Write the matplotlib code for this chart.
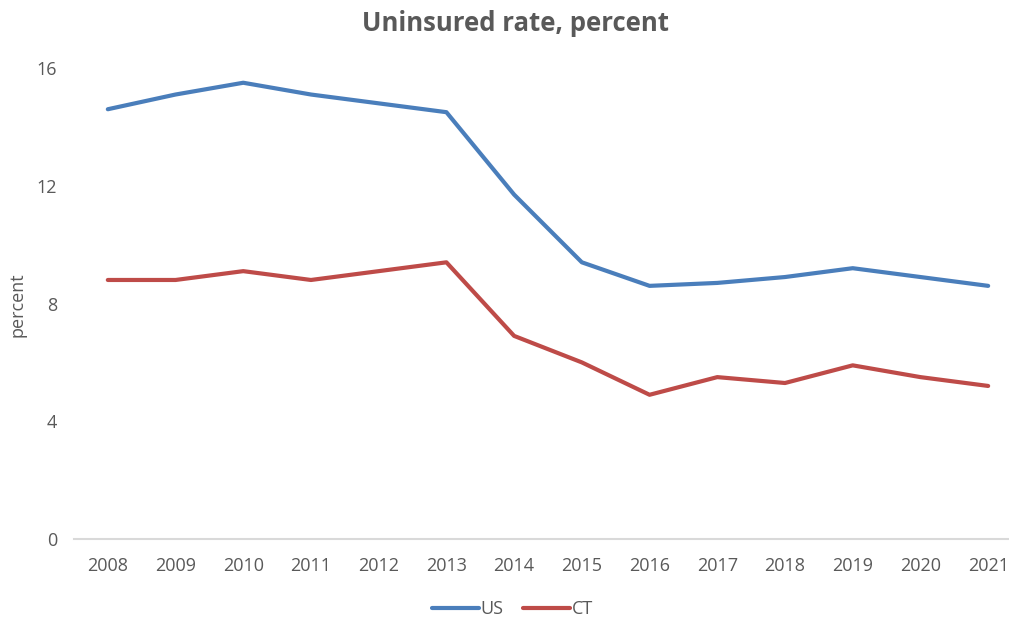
import matplotlib.pyplot as plt

# uninsured rate by year, US vs Connecticut
years = ['2008', '2009', '2010', '2011', '2012', '2013', '2014',
         '2015', '2016', '2017', '2018', '2019', '2020', '2021']
us_rate = [14.6, 15.1, 15.5, 15.1, 14.8, 14.5, 11.7, 9.4, 8.6, 8.7, 8.9, 9.2, 8.9, 8.6]
ct_rate = [8.8, 8.8, 9.1, 8.8, 9.1, 9.4, 6.9, 6.0, 4.9, 5.5, 5.3, 5.9, 5.5, 5.2]

grey = '#595959'
plt.rcParams['font.family'] = ['Open Sans', 'DejaVu Sans']

fig = plt.figure(figsize=(10.09, 6.19), dpi=100)
ax = fig.add_axes([0.0733, 0.1292, 0.9396, 0.7609])

x = range(len(years))
ax.plot(x, us_rate, color='#4A7EBB', linewidth=3, solid_capstyle='round', label='US')
ax.plot(x, ct_rate, color='#BE4B48', linewidth=3, solid_capstyle='round', label='CT')

ax.set_xlim(-0.5, len(years) - 0.5)
ax.set_ylim(0, 16)
ax.set_yticks([0, 4, 8, 12, 16])
ax.set_xticks(list(x))
ax.set_xticklabels(years)
ax.tick_params(axis='both', length=0, labelsize=13, colors=grey)
ax.tick_params(axis='x', pad=13)
ax.tick_params(axis='y', pad=12)

for side in ['top', 'right', 'left']:
    ax.spines[side].set_visible(False)
ax.spines['bottom'].set_color('#D9D9D9')
ax.spines['bottom'].set_linewidth(1.5)

# y label placed by hand so it sits close to the left edge
fig.text(18 / 1009, 1 - 305 / 619, 'percent', rotation=90, ha='center', va='center',
         fontsize=13, color=grey)
fig.text(0.511, 0.962, 'Uninsured rate, percent', ha='center', va='center',
         fontsize=18.5, fontweight='bold', color=grey)

fig.legend(loc='center', bbox_to_anchor=(0.508, 0.016), ncol=2, frameon=False,
           fontsize=13, handlelength=2.6, handletextpad=0.1, columnspacing=1.1,
           labelcolor=grey)

fig.savefig('out.png', dpi=100)
